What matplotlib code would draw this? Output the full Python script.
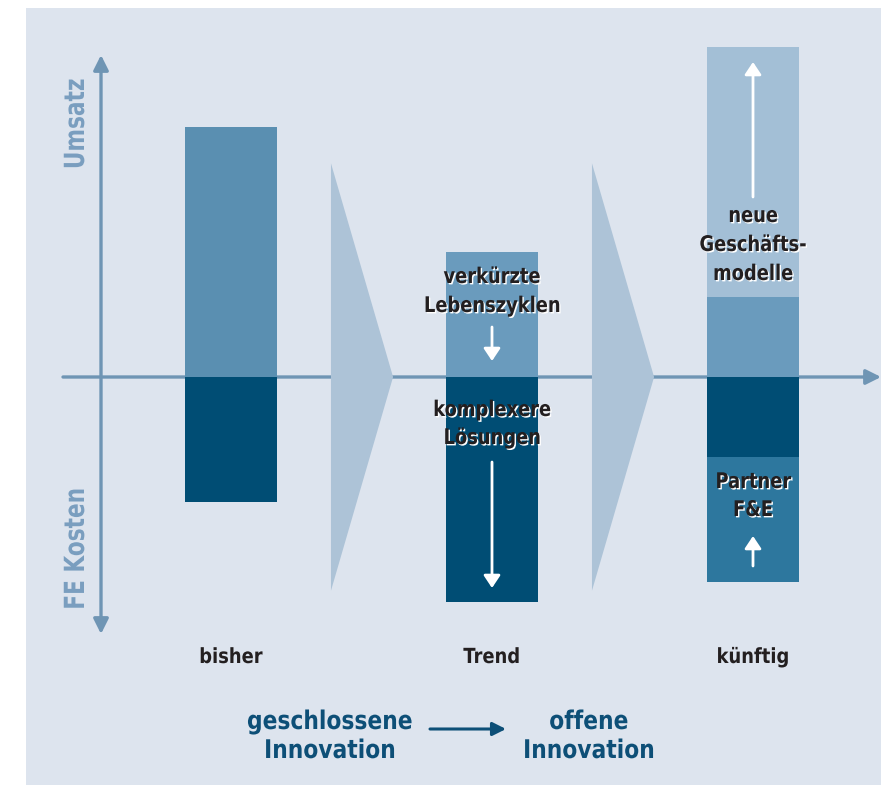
import matplotlib
matplotlib.use("Agg")
import matplotlib.pyplot as plt
from matplotlib.patches import Rectangle, Polygon
from matplotlib.path import Path
from matplotlib.transforms import Affine2D
from matplotlib.colors import to_rgba
import matplotlib.patheffects as pe

plt.rcParams['font.family'] = ['DejaVu Sans']

# Categories and stacked values (Umsatz above the zero line, FE-Kosten below)
categories = ["bisher", "Trend", "künftig"]
umsatz_core = [10.0, 5.0, 3.2]
umsatz_new = [0.0, 0.0, 10.0]      # neue Geschäftsmodelle
kosten_core = [5.0, 9.0, 3.2]
kosten_partner = [0.0, 0.0, 5.0]   # Partner F&E

upper_colors = ["#5a8fb1", "#6a9bbd", "#6a9bbd"]
lower_color = "#004d74"
new_color = "#a3bfd6"
partner_color = "#2d779e"
wedge_color = "#adc3d7"
axis_color = "#6f95b4"
bg_color = "#dde4ee"
text_dark = "#231f20"
blue_text = "#0d4f77"
axis_label_color = "#7a9ebf"


class Narrow(pe.AbstractPathEffect):
    """Squeeze glyphs horizontally around their centre, optional light drop shadow."""

    def __init__(self, sx=0.86, shadow=None, offset=(1.0, -1.0)):
        super().__init__()
        self.sx = sx
        self.shadow = to_rgba(shadow) if shadow is not None else None
        self.off = offset

    def draw_path(self, renderer, gc, tpath, affine, rgbFace=None):
        v = tpath.vertices
        codes = tpath.codes
        if codes is not None:
            v = v[codes != Path.CLOSEPOLY]
        c = 0.5 * (v[:, 0].min() + v[:, 0].max()) if len(v) else 0.0
        squeeze = Affine2D().translate(-c, 0).scale(self.sx, 1).translate(c, 0)
        if self.shadow is not None:
            gc0 = renderer.new_gc()
            gc0.copy_properties(gc)
            gc0.set_foreground(self.shadow)
            px = renderer.points_to_pixels(1.0)
            shift = Affine2D().translate(self.off[0] * px, self.off[1] * px)
            renderer.draw_path(gc0, tpath, squeeze + affine + shift, self.shadow)
            gc0.restore()
        renderer.draw_path(gc, tpath, squeeze + affine, rgbFace)


W, H = 881, 785
fig = plt.figure(figsize=(W / 100, H / 100), dpi=100, facecolor="white")
ax = fig.add_axes([0, 0, 1, 1])
# data frame: categories at x = 0,1,2 ; 1 value unit on y
X0, DX = 231.0, 261.0
Y0, DY = 377.0, 25.0
ax.set_xlim(-X0 / DX, (W - X0) / DX)
ax.set_ylim(-(H - Y0) / DY, Y0 / DY)
ax.axis("off")


def P(px, py):
    """figure pixel -> data coordinates"""
    return (px - X0) / DX, (Y0 - py) / DY


# background panel
bx0, by0 = P(26, 785)
bx1, by1 = P(881, 8)
ax.add_patch(Rectangle((bx0, by0), bx1 - bx0, by1 - by0, color=bg_color, zorder=0, lw=0))

# horizontal axis line with arrow
ax.annotate("", xy=P(881, 377), xytext=P(63, 377),
            arrowprops=dict(arrowstyle="-|>,head_length=0.9,head_width=0.45",
                            color=axis_color, lw=2.4, shrinkA=0, shrinkB=0), zorder=1)
# vertical double arrow
ax.annotate("", xy=P(101, 55), xytext=P(101, 634),
            arrowprops=dict(arrowstyle="<|-|>,head_length=0.9,head_width=0.45",
                            color=axis_color, lw=2.4, shrinkA=0, shrinkB=0), zorder=1)

# transition wedges between the stages
for xc in (0.5, 1.5):
    x_left = xc - 0.117
    x_tip = xc + 0.121
    ax.add_patch(Polygon([(x_left, 8.55), (x_tip, 0), (x_left, -8.55)],
                         closed=True, color=wedge_color, lw=0, zorder=2))

# stacked bars
bw = 0.349
xs = range(len(categories))
ax.bar(xs, umsatz_core, width=bw, color=upper_colors, zorder=3, lw=0)
ax.bar(xs, umsatz_new, bottom=umsatz_core, width=bw, color=new_color, zorder=3, lw=0)
ax.bar(xs, [-v for v in kosten_core], width=bw, color=lower_color, zorder=3, lw=0)
ax.bar(xs, [-v for v in kosten_partner], bottom=[-v for v in kosten_core], width=bw,
       color=partner_color, zorder=3, lw=0)


def label(px, py, s, size=15.5, color=text_dark, sx=0.83, shadow=None, **kw):
    ax.text(*P(px, py), s, ha="center", va="center", fontsize=size, fontweight="bold",
            color=color, path_effects=[Narrow(sx, shadow)], zorder=6, **kw)


def white_arrow(p_from, p_to, hl=0.75, hw=0.5):
    ax.annotate("", xy=P(*p_to), xytext=P(*p_from),
                arrowprops=dict(arrowstyle=f"-|>,head_length={hl},head_width={hw}",
                                color="white", lw=2.0, shrinkA=0, shrinkB=0), zorder=5)


# Trend annotations
label(492, 277, "verkürzte", shadow="white")
label(492, 306, "Lebenszyklen", shadow="white")
white_arrow((492, 327), (492, 361))
label(492, 410, "komplexere", shadow="white")
label(492, 438, "Lösungen", shadow="white")
white_arrow((492, 462), (492, 588))

# künftig annotations
white_arrow((753, 197), (753, 62))
label(753, 216, "neue", shadow="white")
label(753, 245, "Geschäfts-", shadow="white")
label(753, 274, "modelle", shadow="white")
label(753, 482, "Partner", shadow="white")
label(753, 510, "F&E", shadow="white")
white_arrow((753, 566), (753, 536))

# stage labels
for i, c in enumerate(categories):
    ax.text(i, P(0, 657)[1], c, ha="center", va="center", fontsize=15,
            fontweight="bold", color=text_dark, zorder=6, path_effects=[Narrow(0.86)])

# axis titles
label(76, 124, "Umsatz", size=20, color=axis_label_color, sx=0.78, rotation=90)
label(76, 549, "FE Kosten", size=20, color=axis_label_color, sx=0.78, rotation=90)

# bottom caption: closed -> open innovation
label(330, 722, "geschlossene", size=18.5, color=blue_text, sx=0.85)
label(330, 751, "Innovation", size=18.5, color=blue_text, sx=0.85)
label(589, 722, "offene", size=18.5, color=blue_text, sx=0.85)
label(589, 751, "Innovation", size=18.5, color=blue_text, sx=0.85)
ax.annotate("", xy=P(506, 729), xytext=P(430, 729),
            arrowprops=dict(arrowstyle="-|>,head_length=0.8,head_width=0.4",
                            color=blue_text, lw=2.2, shrinkA=0, shrinkB=0), zorder=5)

fig.savefig("out.png", dpi=100, facecolor="white")
